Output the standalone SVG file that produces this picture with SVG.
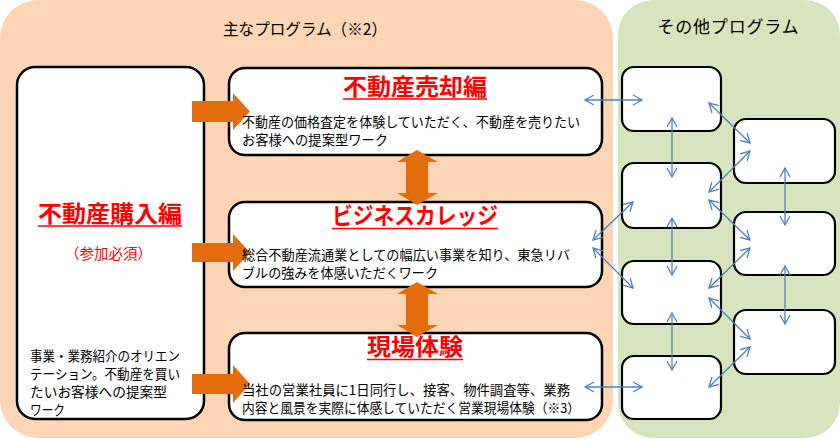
<svg xmlns="http://www.w3.org/2000/svg" width="840" height="439" viewBox="0 0 840 439">
<style>
text{font-family:"Noto Sans CJK JP","Noto Sans",sans-serif;}
.panelT{font-size:16px;fill:#000;}
.title{font-size:23px;font-weight:bold;fill:#FF0000;}
.ul{stroke:#FF0000;stroke-width:1.6;}
.desc{font-size:13.3px;fill:#000;}
.bdesc{font-size:13.2px;fill:#000;}
.box{fill:#fff;stroke:#000;stroke-width:2.5;}
.sbox{fill:#fff;stroke:#000;stroke-width:2.2;}
.oarrow{fill:#E46C0A;}
.conn{stroke:#4F81BD;stroke-width:1.3;fill:none;marker-start:url(#ah);marker-end:url(#ah);}
</style>
<defs>
<marker id="ah" markerUnits="userSpaceOnUse" markerWidth="12" markerHeight="12" refX="9" refY="5" orient="auto-start-reverse" overflow="visible">
<path d="M0,0 L9,5 L0,10" fill="none" stroke="#4F81BD" stroke-width="1.3"/>
</marker>
</defs>
<g id="panel-main">
<rect x="0" y="0" width="613" height="438" rx="38" fill="#FBD5B5"/>
<text class="panelT" x="305" y="35" text-anchor="middle" textLength="164" lengthAdjust="spacingAndGlyphs">主なプログラム（※2）</text>
</g>
<g id="panel-other">
<rect x="618" y="0" width="222" height="438" rx="35" fill="#D7E4BD"/>
<text class="panelT" x="728" y="33" text-anchor="middle" style="font-size:17px" textLength="141">その他プログラム</text>
</g>
<g id="node-purchase">
<rect class="box" x="17" y="67" width="187" height="352" rx="18"/>
<text class="title" x="110" y="222" text-anchor="middle" textLength="144" lengthAdjust="spacingAndGlyphs">不動産購入編</text>
<line class="ul" x1="38" y1="226" x2="182" y2="226"/>
<text x="108.5" y="259" text-anchor="middle" style="font-size:14.5px;fill:#FF0000">（参加必須）</text>
<text class="desc" x="30" y="361" textLength="150" lengthAdjust="spacingAndGlyphs">事業・業務紹介のオリエン</text>
<text class="desc" x="30" y="379" textLength="150" lengthAdjust="spacingAndGlyphs">テーション。不動産を買い</text>
<text class="desc" x="30" y="397" textLength="137" lengthAdjust="spacingAndGlyphs">たいお客様への提案型</text>
<text class="desc" x="30" y="415" textLength="35" lengthAdjust="spacingAndGlyphs">ワーク</text>
</g>
<g id="node-sale">
<rect class="box" x="229" y="68" width="373" height="87" rx="16"/>
</g>
<g id="node-college">
<rect class="box" x="229" y="202" width="373" height="85" rx="16"/>
</g>
<g id="node-field">
<rect class="box" x="229" y="333" width="373" height="87" rx="16"/>
</g>
<g id="orange-arrows">
<polygon class="oarrow" points="192,101 233,101 233,93 250,111.5 233,130 233,122 192,122"/>
<polygon class="oarrow" points="192,243 233,243 233,234 250,252.5 233,271 233,262 192,262"/>
<polygon class="oarrow" points="192,374 233,374 233,365 250,384 233,403 233,394 192,394"/>
<polygon class="oarrow" points="417,150 438,162 428,162 428,193 438,193 417,205 397,193 406,193 406,162 397,162"/>
<polygon class="oarrow" points="417,282 438,294 428,294 428,325 438,325 417,337 397,325 406,325 406,294 397,294"/>
</g>
<g id="node-sale-text">
<text class="title" x="415" y="95" text-anchor="middle" textLength="144" lengthAdjust="spacingAndGlyphs">不動産売却編</text>
<line class="ul" x1="343" y1="99" x2="487" y2="99"/>
<text class="bdesc" x="242" y="127" textLength="338" lengthAdjust="spacingAndGlyphs">不動産の価格査定を体験していただく、不動産を売りたい</text>
<text class="bdesc" x="242" y="145" textLength="146" lengthAdjust="spacingAndGlyphs">お客様への提案型ワーク</text>
</g>
<g id="node-college-text">
<text class="title" x="415" y="224" text-anchor="middle" textLength="166" lengthAdjust="spacingAndGlyphs">ビジネスカレッジ</text>
<line class="ul" x1="332" y1="228.5" x2="498" y2="228.5"/>
<text class="bdesc" x="242" y="260" textLength="328" lengthAdjust="spacingAndGlyphs">総合不動産流通業としての幅広い事業を知り、東急リバ</text>
<text class="bdesc" x="242" y="278" textLength="196" lengthAdjust="spacingAndGlyphs">ブルの強みを体感いただくワーク</text>
</g>
<g id="node-field-text">
<text class="title" x="415" y="355" text-anchor="middle" textLength="96" lengthAdjust="spacingAndGlyphs">現場体験</text>
<line class="ul" x1="367" y1="359.5" x2="463" y2="359.5"/>
<text class="bdesc" x="242" y="395" textLength="328" lengthAdjust="spacingAndGlyphs">当社の営業社員に1日同行し、接客、物件調査等、業務</text>
<text class="bdesc" x="242" y="413" textLength="338" lengthAdjust="spacingAndGlyphs">内容と風景を実際に体感していただく営業現場体験（※3）</text>
</g>
<g id="other-a"><rect class="sbox" x="622" y="67" width="99" height="64" rx="12"/></g>
<g id="other-c"><rect class="sbox" x="622" y="163" width="99" height="65" rx="12"/></g>
<g id="other-e"><rect class="sbox" x="622" y="261" width="99" height="63" rx="12"/></g>
<g id="other-g"><rect class="sbox" x="622" y="356" width="99" height="63" rx="12"/></g>
<g id="other-b"><rect class="sbox" x="734" y="119" width="101" height="64" rx="12"/></g>
<g id="other-d"><rect class="sbox" x="734" y="212" width="101" height="63" rx="12"/></g>
<g id="other-f"><rect class="sbox" x="734" y="310" width="101" height="64" rx="12"/></g>
<g id="connectors">
<line class="conn" x1="585" y1="100" x2="642" y2="100"/>
<line class="conn" x1="585" y1="387" x2="642" y2="387"/>
<line class="conn" x1="593" y1="240" x2="633" y2="202"/>
<line class="conn" x1="593" y1="248" x2="633" y2="288"/>
<line class="conn" x1="672" y1="118" x2="672" y2="177"/>
<line class="conn" x1="672" y1="218" x2="672" y2="275"/>
<line class="conn" x1="672" y1="313" x2="672" y2="370"/>
<line class="conn" x1="709" y1="103" x2="750" y2="143"/>
<line class="conn" x1="709" y1="192" x2="750" y2="151"/>
<line class="conn" x1="709" y1="200" x2="750" y2="240"/>
<line class="conn" x1="709" y1="288" x2="750" y2="248"/>
<line class="conn" x1="709" y1="298" x2="750" y2="339"/>
<line class="conn" x1="709" y1="387" x2="750" y2="347"/>
<line class="conn" x1="785" y1="168" x2="785" y2="225"/>
<line class="conn" x1="785" y1="266" x2="785" y2="324"/>
</g>
</svg>
